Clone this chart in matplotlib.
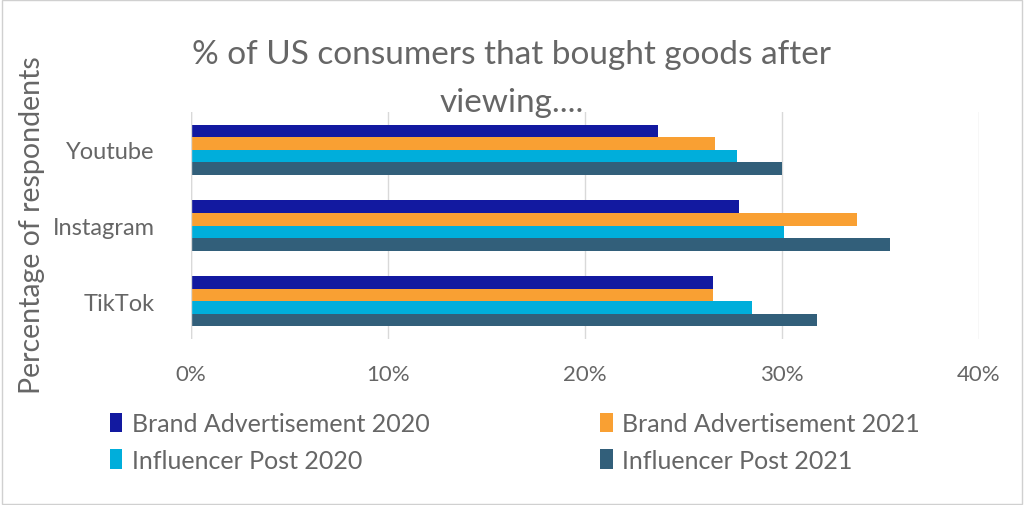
import matplotlib.pyplot as plt
import numpy as np
from matplotlib.patches import Rectangle

plt.rcParams['font.family'] = ['Lato', 'DejaVu Sans']

categories = ['TikTok', 'Instagram', 'Youtube']
series = ['Brand Advertisement 2020', 'Brand Advertisement 2021',
          'Influencer Post 2020', 'Influencer Post 2021']
values = {
    'Brand Advertisement 2020': [26.5, 27.8, 23.7],
    'Brand Advertisement 2021': [26.5, 33.8, 26.6],
    'Influencer Post 2020': [28.5, 30.1, 27.7],
    'Influencer Post 2021': [31.8, 35.5, 30.0],
}
colors = ['#1219A0', '#F9A033', '#00AEDB', '#325F7A']
xticks = [0, 10, 20, 30, 40]

text_color = '#666666'

fig = plt.figure(figsize=(10.24, 5.06), dpi=100)
ax = fig.add_axes([191 / 1024, 1 - 340 / 506, (979 - 191) / 1024, (340 - 113) / 506])

y = np.arange(len(categories))
h = 0.166
for i, s in enumerate(series):
    offset = (1.5 - i) * h
    ax.barh(y + offset, values[s], height=h, color=colors[i], label=s, zorder=3)

ax.set_xlim(0, 40)
ax.set_ylim(-0.5, 2.5)
ax.set_xticks(xticks)
ax.set_xticklabels([f'{t}%' for t in xticks], fontsize=16, color=text_color)
ax.set_yticks(y)
ax.set_yticklabels(categories, fontsize=17, color=text_color)
ax.tick_params(axis='both', length=0)
ax.tick_params(axis='x', pad=18)
ax.tick_params(axis='y', pad=26)
ax.grid(axis='x', color='#D9D9D9', linewidth=1, zorder=0)
for sp in ax.spines.values():
    sp.set_visible(False)
ax.axvline(0, color='#D9D9D9', linewidth=1, zorder=4)

fig.text(0.5, 1 - 55 / 506, '% of US consumers that bought goods after',
         ha='center', va='center', fontsize=24, color=text_color)
fig.text(0.5, 1 - 103 / 506, 'viewing....',
         ha='center', va='center', fontsize=24, color=text_color)
fig.text(32 / 1024, 1 - 225 / 506, 'Percentage of respondents', rotation=90,
         ha='center', va='center', fontsize=20.5, color=text_color)

handles, labels = ax.get_legend_handles_labels()
order = [0, 2, 1, 3]
leg = fig.legend([handles[k] for k in order], [labels[k] for k in order],
                 ncol=2, loc='center',
                 bbox_to_anchor=(515 / 1024, 1 - 443 / 506),
                 frameon=False, fontsize=18, labelcolor=text_color,
                 handlelength=0.5, handleheight=0.85, handletextpad=0.4,
                 columnspacing=6.8, labelspacing=0.55)

fig.patches.append(Rectangle((0.002, 0.002), 0.996, 0.996, transform=fig.transFigure,
                             fill=False, edgecolor='#D0D0D0', linewidth=1))

fig.savefig('out.png', dpi=100)
